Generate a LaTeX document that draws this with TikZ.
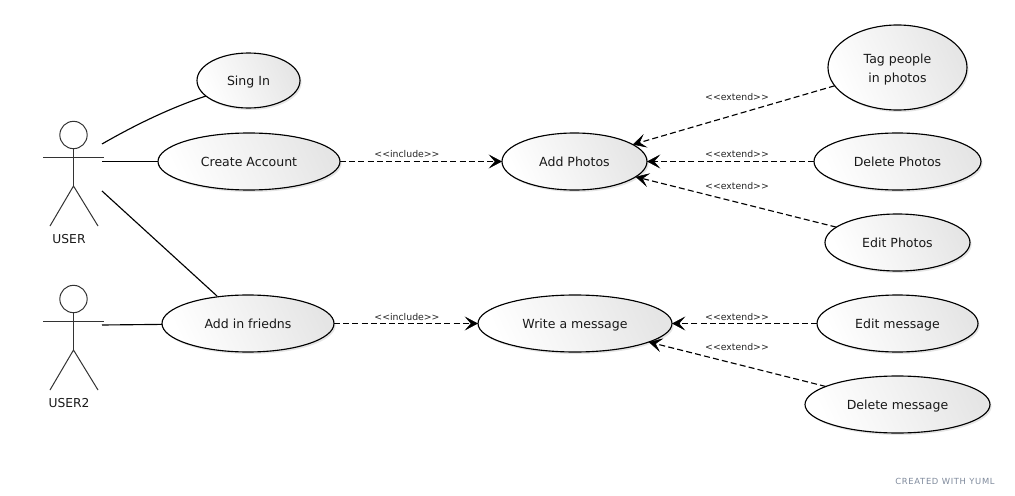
\documentclass[tikz,border=0pt]{standalone}
\usepackage{fontspec}
\setmainfont{DejaVu Sans}
\usetikzlibrary{shapes.geometric,arrows.meta,shadows}
\definecolor{actorcol}{HTML}{333333}
\definecolor{wmark}{HTML}{7F8A9C}
\tikzset{
  x=0.75pt,y=-0.75pt,
  uc/.style 2 args={ellipse,draw=black,line width=0.85pt,inner sep=0pt,outer sep=0pt,
    minimum width=#1*0.75pt,minimum height=#2*0.75pt,
    left color=white,right color=black!10,shading angle=115,
    general shadow={shadow xshift=1.2pt,shadow yshift=-1.5pt,fill=black,opacity=0.1},
    font=\fontsize{9.4pt}{11.5pt}\selectfont,text=black!90,align=center,
    text height=10pt,text depth=2pt},
  uctwo/.style={text height=24pt,text depth={}},
  assoc/.style={line width=0.85pt,black},
  dep/.style={line width=0.85pt,black,dash pattern=on 4.5pt off 2.4pt,
    -{Stealth[length=10pt,width=10.5pt,inset=4.6pt,line width=0.4pt]}},
  lab/.style={font=\fontsize{7.0pt}{9pt}\selectfont,text=black!85,inner sep=0pt},
  actorl/.style={line width=0.75pt,actorcol},
  head/.style={circle,draw=actorcol,line width=0.75pt,inner sep=0pt,outer sep=0pt,minimum size=20.5pt},
  actname/.style={font=\fontsize{9.2pt}{11pt}\selectfont,text=black!90,inner sep=0pt}
}
\begin{document}
\begin{tikzpicture}
\useasboundingbox[fill=white] (0,0) rectangle (1015,496);

% use cases
\node[uc={103}{55}]  (signin)  at (248.5,80.5) {Sing In};
\node[uc={182}{57}]  (create)  at (249,161.5)  {Create Account};
\node[uc={145}{57}]  (addph)   at (574.5,161.5){Add Photos};
\node[uc={139}{85},uctwo] (tag) at (897.5,67.5) {Tag people\\[2.5pt]in photos};
\node[uc={167}{57}]  (delph)   at (897.5,161.5){Delete Photos};
\node[uc={145}{57}]  (editph)  at (897.5,242.5){Edit Photos};
\node[uc={172}{57}]  (friends) at (248,323.5)  {Add in friedns};
\node[uc={194}{57}]  (write)   at (575,323.5)  {Write a message};
\node[uc={161}{57}]  (editmsg) at (897.5,323.5){Edit message};
\node[uc={185}{57}]  (delmsg)  at (897.5,404.5){Delete message};

% actors
\node[head] (head1) at (73.5,135) {};
\coordinate (neck1) at (73.5,186);
\draw[actorl] (head1.south) -- (neck1);
\coordinate (armLa) at (43,157.5);
\coordinate (armRa) at (104,157.5);
\draw[actorl] (armLa) -- (armRa);
\coordinate (legLa) at (50,226);
\coordinate (legRa) at (98,226);
\draw[actorl] (legLa) -- (neck1) -- (legRa);
\node[actname] (user1) at (69,239.5) {USER};

\node[head] (head2) at (73.5,299) {};
\coordinate (neck2) at (73.5,350);
\draw[actorl] (head2.south) -- (neck2);
\coordinate (armLb) at (43,321.5);
\coordinate (armRb) at (104,321.5);
\draw[actorl] (armLb) -- (armRb);
\coordinate (legLb) at (50,390);
\coordinate (legRb) at (98,390);
\draw[actorl] (legLb) -- (neck2) -- (legRb);
\node[actname] (user2) at (69,403.5) {USER2};

% associations
\coordinate (a1) at (102,144);
\coordinate (a2) at (102,161.5);
\coordinate (a3) at (102,191);
\coordinate (a4) at (102,325);
\coordinate (s1) at (206,96);
\coordinate (f1) at (217,296);
\draw[assoc] (a1) .. controls (135,125) and (170,108) .. (s1);
\draw[assoc] (a2) -- (create);
\draw[assoc] (a3) -- (f1);
\draw[assoc] (a4) -- (friends);

% dependencies
\draw[dep] (create) -- (addph);
\draw[dep] (friends) -- (write);
\draw[dep] (tag) -- (addph);
\draw[dep] (delph) -- (addph);
\draw[dep] (editph) -- (addph);
\draw[dep] (editmsg) -- (write);
\draw[dep] (delmsg) -- (write);

% labels
\node[lab] (li1) at (407,154) {{<}{<}include{>}{>}};
\node[lab] (li2) at (407,317) {{<}{<}include{>}{>}};
\node[lab] (le1) at (737,97)  {{<}{<}extend{>}{>}};
\node[lab] (le2) at (737,154) {{<}{<}extend{>}{>}};
\node[lab] (le3) at (737,186) {{<}{<}extend{>}{>}};
\node[lab] (le4) at (737,317) {{<}{<}extend{>}{>}};
\node[lab] (le5) at (737,347) {{<}{<}extend{>}{>}};

\node[font=\fontsize{6.3pt}{8pt}\addfontfeature{LetterSpace=8}\selectfont,text=wmark,inner sep=0pt] (wm) at (945,481) {CREATED WITH YUML};
\end{tikzpicture}
\end{document}
